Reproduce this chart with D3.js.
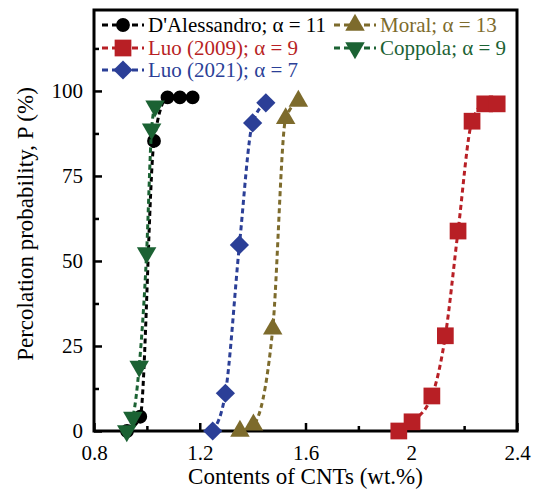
<!DOCTYPE html>
<html>
<head>
<meta charset="utf-8">
<script src="https://cdn.jsdelivr.net/npm/d3@7"></script>
<style>
  body { margin: 0; background: #fff; }
</style>
</head>
<body>
<svg id="chart"></svg>
<script>
// ---- data ----
const seriesNames = ["D'Alessandro; \u03b1 = 11", "Luo (2009); \u03b1 = 9", "Luo (2021); \u03b1 = 7", "Moral; \u03b1 = 13", "Coppola; \u03b1 = 9"];
const dalessandroX = [0.925, 0.975, 1.027, 1.078, 1.125, 1.173];
const dalessandroY = [0, 4.2, 85.3, 98.1, 98.1, 98.1];
const luo2009X = [1.953, 2.003, 2.078, 2.129, 2.177, 2.230, 2.278, 2.325];
const luo2009Y = [0, 2.7, 10.3, 28.0, 58.8, 91.1, 96.2, 96.2];
const luo2021X = [1.249, 1.297, 1.350, 1.400, 1.450];
const luo2021Y = [0, 11.1, 54.7, 90.6, 96.5];
const moralX = [1.352, 1.403, 1.476, 1.525, 1.573];
const moralY = [0, 1.8, 30.0, 91.9, 97.0];
const coppolaX = [0.924, 0.947, 0.971, 0.999, 1.018, 1.031];
const coppolaY = [0, 4.0, 19.0, 52.4, 88.8, 95.5];
const xMajorTicks = [0.8, 1.2, 1.6, 2.0, 2.4];
const xMinorTicks = [1.0, 1.4, 1.8, 2.2];
const yMajorTicks = [0, 25, 50, 75, 100];
const yMinorTicks = [12.5, 37.5, 62.5, 87.5, 112.5];

const colors = ["#000000", "#b81f25", "#2b3f97", "#7d6b2c", "#1b6233"];
const symbols = ["circle", "square", "diamond", "triangle", "triangleDown"];
const symSizes = [150, 280, 185, 165, 165];

// single family name: the renderer does not like lists here
const FONT = "Liberation Serif";

const series = [
  [dalessandroX, dalessandroY],
  [luo2009X, luo2009Y],
  [luo2021X, luo2021Y],
  [moralX, moralY],
  [coppolaX, coppolaY]
].map(([xs, ys], i) => ({
  name: seriesNames[i],
  color: colors[i],
  symbol: symbols[i],
  size: symSizes[i],
  values: xs.map((x, j) => ({x: x, y: ys[j]}))
}));

// ---- layout ----
const config = {
  width: 533, height: 496,
  margin: {top: 10, right: 16, bottom: 65, left: 94}
};
const innerW = config.width - config.margin.left - config.margin.right;
const innerH = config.height - config.margin.top - config.margin.bottom;

const svg = d3.select('#chart')
  .attr('width', config.width)
  .attr('height', config.height)
  .attr('font-family', FONT);

const g = svg.append('g')
  .attr('transform', `translate(${config.margin.left},${config.margin.top})`);

const xScale = d3.scaleLinear().domain([0.8, 2.4]).range([0, innerW]);
const yScale = d3.scaleLinear().domain([0, 123.8]).range([innerH, 0]);

const fmtX = d => String(+d.toFixed(1));

// minor ticks first, then major with labels
const xMinor = g.append('g').attr('transform', `translate(0,${innerH})`)
  .call(d3.axisBottom(xScale).tickValues(xMinorTicks).tickSize(-5).tickFormat(''));
const xMajor = g.append('g').attr('transform', `translate(0,${innerH})`)
  .call(d3.axisBottom(xScale).tickValues(xMajorTicks).tickSize(-8).tickPadding(14).tickFormat(fmtX));
const yMinor = g.append('g')
  .call(d3.axisLeft(yScale).tickValues(yMinorTicks).tickSize(-5).tickFormat(''));
const yMajor = g.append('g')
  .call(d3.axisLeft(yScale).tickValues(yMajorTicks).tickSize(-8).tickPadding(11));

[xMinor, xMajor, yMinor, yMajor].forEach(a => {
  a.attr('font-family', FONT).attr('font-size', 21);
  a.select('.domain').remove();
  a.selectAll('.tick line').attr('stroke', '#000').attr('stroke-width', 2.5);
  a.selectAll('.tick text')
    .attr('fill', '#000')
    .attr('font-family', FONT)
    .attr('font-size', 21);
});

// frame
g.append('rect')
  .attr('width', innerW)
  .attr('height', innerH)
  .attr('fill', 'none')
  .attr('stroke', '#000')
  .attr('stroke-width', 3);

// axis titles
svg.append('text')
  .attr('x', config.margin.left + innerW / 2)
  .attr('y', 484)
  .attr('text-anchor', 'middle')
  .attr('font-family', FONT)
  .attr('font-size', 23)
  .text('Contents of CNTs (wt.%)');

svg.append('text')
  .attr('transform', 'rotate(-90)')
  .attr('x', -224)
  .attr('y', 33)
  .attr('text-anchor', 'middle')
  .attr('font-family', FONT)
  .attr('font-size', 23)
  .text('Percolation probability, P (%)');

// symbol helpers
function symPath(s, size) {
  if (s === 'circle') return d3.symbol().type(d3.symbolCircle).size(size)();
  if (s === 'square' || s === 'diamond') return d3.symbol().type(d3.symbolSquare).size(size)();
  return d3.symbol().type(d3.symbolTriangle).size(size)();
}
function symTransform(s, x, y) {
  if (s === 'triangleDown') return `translate(${x},${y}) rotate(180)`;
  if (s === 'diamond') return `translate(${x},${y}) rotate(45)`;
  return `translate(${x},${y})`;
}

const line = d3.line()
  .x(d => xScale(d.x))
  .y(d => yScale(d.y))
  .curve(d3.curveMonotoneX);

// series
series.forEach(s => {
  const sg = g.append('g');
  sg.append('path')
    .datum(s.values)
    .attr('d', line)
    .attr('fill', 'none')
    .attr('stroke', s.color)
    .attr('stroke-width', 3)
    .attr('stroke-dasharray', '5,3.5');
  sg.selectAll('path.pt')
    .data(s.values)
    .join('path')
    .attr('class', 'pt')
    .attr('d', symPath(s.symbol, s.size))
    .attr('transform', d => symTransform(s.symbol, xScale(d.x), yScale(d.y)))
    .attr('fill', s.color);
});

// legend
const legendPos = [[123, 25], [123, 48], [123, 70], [355, 25], [355, 48]];
series.forEach((s, i) => {
  const [lx, ly] = legendPos[i];
  const lg = svg.append('g');
  lg.append('line')
    .attr('x1', lx - 21).attr('x2', lx + 21)
    .attr('y1', ly).attr('y2', ly)
    .attr('stroke', s.color)
    .attr('stroke-width', 3)
    .attr('stroke-dasharray', '6,4');
  lg.append('path')
    .attr('d', symPath(s.symbol, s.size))
    .attr('transform', symTransform(s.symbol, lx, ly))
    .attr('fill', s.color);
  lg.append('text')
    .attr('x', lx + 25)
    .attr('y', ly + 7)
    .attr('fill', s.color)
    .attr('font-family', FONT)
    .attr('font-size', 21)
    .text(s.name);
});
</script>
</body>
</html>
